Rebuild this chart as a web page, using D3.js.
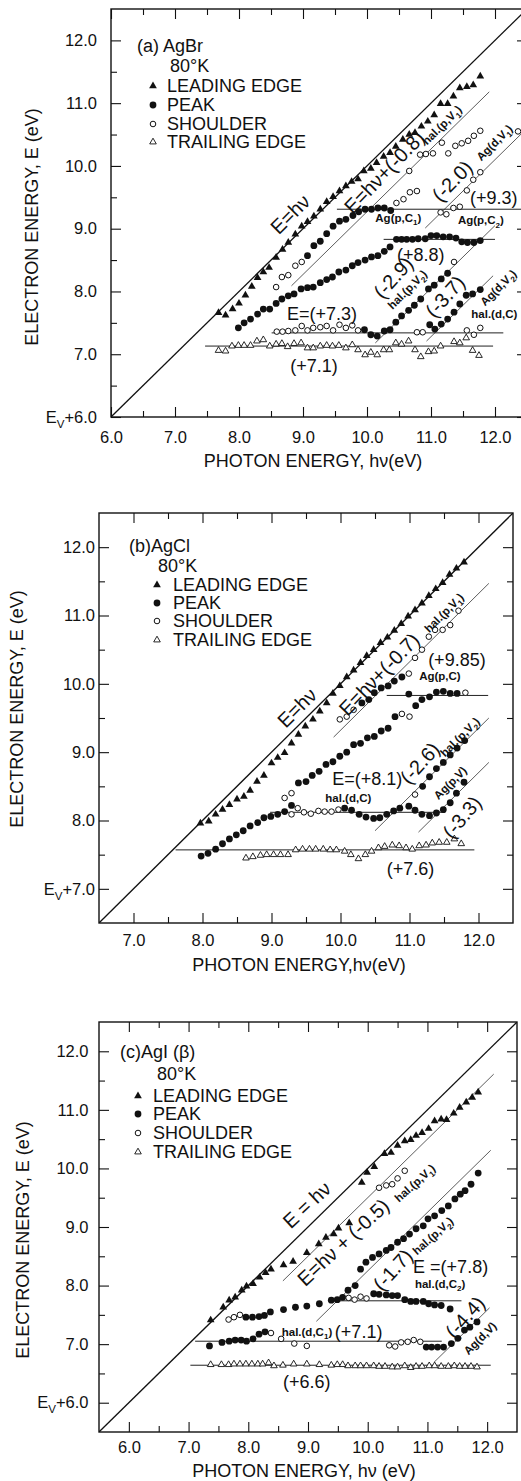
<!DOCTYPE html>
<html>
<head>
<meta charset="utf-8">
<script src="https://cdnjs.cloudflare.com/ajax/libs/d3/7.8.5/d3.min.js"></script>
<style>
  body { margin: 0; background: #fff; }
  svg { display: block; }
  text { font-family: "Liberation Sans", Arial, sans-serif; fill: #111; }
</style>
</head>
<body>
<svg id="chart" width="521" height="1481"></svg>
<script>
// ---- Series names (legend)
const seriesNames = ['LEADING EDGE', 'PEAK', 'SHOULDER', 'TRAILING EDGE'];
const seriesKeys = ['leading', 'peak', 'shoulder', 'trailing'];

// ---- Tick labels
const aXTicks = [6, 7, 8, 9, 10, 11, 12];
const aYTicks = [6, 7, 8, 9, 10, 11, 12];
const aYTickLabels = ['E_V+6.0', '7.0', '8.0', '9.0', '10.0', '11.0', '12.0'];
const bXTicks = [7, 8, 9, 10, 11, 12];
const bYTicks = [7, 8, 9, 10, 11, 12];
const bYTickLabels = ['E_V+7.0', '8.0', '9.0', '10.0', '11.0', '12.0'];
const cXTicks = [6, 7, 8, 9, 10, 11, 12];
const cYTicks = [6, 7, 8, 9, 10, 11, 12];
const cYTickLabels = ['E_V+6.0', '7.0', '8.0', '9.0', '10.0', '11.0', '12.0'];

// ---- (a) AgBr  [photon energy, electron energy]
const aLeading = [[7.68,7.66],[7.79,7.62],[7.90,7.72],[8.00,7.81],[8.10,7.94],[8.20,8.08],[8.29,8.22],[8.38,8.31],[8.47,8.38],[8.58,8.54],[8.68,8.67],[8.77,8.78],[8.88,8.91],[8.98,9.04],[9.07,9.11],[9.17,9.20],[9.27,9.31],[9.37,9.43],[9.47,9.51],[9.57,9.60],[9.67,9.68],[9.76,9.75],[9.86,9.79],[9.95,9.92],[10.06,9.96],[10.15,10.05],[10.26,10.15],[10.36,10.21],[10.45,10.31],[10.56,10.42],[10.66,10.50],[10.75,10.53],[10.85,10.63],[10.95,10.71],[11.05,10.81],[11.15,10.99],[11.26,10.99],[11.35,11.11],[11.45,11.24],[11.56,11.26],[11.66,11.29],[11.77,11.43]];
const aPeak = [[7.99,7.42],[8.08,7.50],[8.18,7.56],[8.29,7.64],[8.38,7.72],[8.48,7.72],[8.58,7.81],[8.67,7.88],[8.77,7.93],[8.86,7.96],[8.97,8.04],[9.07,8.06],[9.16,8.07],[9.27,8.14],[9.37,8.19],[9.46,8.23],[9.56,8.31],[9.67,8.34],[9.77,8.41],[9.86,8.46],[9.97,8.50],[10.07,8.55],[10.17,8.57],[10.27,8.64],[10.36,8.71],
  [10.46,8.83],[10.54,8.83],[10.62,8.83],[10.71,8.83],[10.80,8.84],[10.91,8.84],[11.00,8.89],[11.09,8.89],[11.19,8.87],[11.29,8.87],[11.39,8.85],[11.48,8.79],[11.57,8.78],[11.67,8.78],[11.77,8.81],
  [9.07,8.57],[9.17,8.73],[9.27,8.80],[9.37,8.92],[9.47,9.04],[9.57,9.12],[9.67,9.15],[9.78,9.21],[9.87,9.27],[9.97,9.31],[10.07,9.31],[10.17,9.33],[10.27,9.33],[10.37,9.29],
  [9.96,7.39],[10.06,7.31],[10.16,7.29],[10.27,7.37],[10.36,7.39],[10.45,7.51],[10.54,7.61],[10.65,7.70],[10.74,7.78],[10.84,7.88],[10.96,8.04],[11.05,8.10],[11.16,8.20],[11.26,8.29],
  [10.98,7.47],[11.06,7.40],[11.16,7.48],[11.26,7.56],[11.36,7.67],[11.45,7.80],[11.55,7.94],[11.65,7.96],[11.77,8.03]];
const aShoulder = [[8.58,8.07],[8.67,8.23],[8.77,8.26],[8.88,8.41],[8.98,8.47],
  [10.46,9.41],[10.57,9.47],[10.67,9.58],[10.78,9.60],[10.66,9.92],[10.83,10.18],[10.92,10.19],[11.03,10.20],[11.17,10.37],[11.27,10.20],[11.38,10.32],[11.48,10.36],[11.58,10.40],[11.67,10.48],[11.77,10.56],
  [11.15,9.26],[11.24,9.23],[11.35,9.33],[11.45,9.35],[11.56,9.61],[11.66,9.78],[11.77,9.90],[12.36,10.55],
  [8.59,7.36],[8.68,7.36],[8.77,7.37],[8.88,7.38],[8.98,7.45],[9.07,7.38],[9.16,7.42],[9.27,7.43],[9.37,7.45],[9.47,7.38],[9.57,7.47],[9.67,7.42],[9.77,7.46],[9.86,7.38],
  [10.78,7.35],[10.87,7.35],[11.36,8.47],[11.56,7.38],[11.67,7.31],[11.77,7.42]];
const aTrailing = [[7.68,7.06],[7.79,7.05],[7.89,7.13],[7.99,7.14],[8.08,7.14],[8.18,7.14],[8.28,7.21],[8.38,7.23],[8.48,7.13],[8.58,7.16],[8.67,7.17],[8.76,7.12],[8.86,7.17],[8.97,7.18],[9.07,7.10],[9.16,7.10],[9.27,7.13],[9.37,7.14],[9.46,7.13],[9.56,7.14],[9.67,7.10],[9.77,7.15],[9.86,7.07],[9.97,6.99],[10.06,7.03],[10.16,6.99],[10.26,7.07],[10.35,7.07],[10.45,7.18],[10.54,7.16],[10.65,7.21],[10.75,7.07],[10.84,6.96],[10.96,7.04],[11.05,7.05],[11.15,7.13],[11.36,7.20],[11.45,7.18],[11.55,7.26],[11.65,7.06],[11.75,6.98]];
// guide lines: [x from, x to, offset from E = hν]
const aSlopeLines = [[6, 12.5, 0], [8.82, 11.91, -0.73], [10.91, 12.5, -1.9], [10.13, 12.0, -2.95], [10.93, 11.97, -3.72]];
// flat lines: [x from, x to, E]
const aFlatLines = [[9.53, 12.5, 9.31], [10.26, 12.0, 8.83], [8.51, 12.13, 7.34], [7.47, 11.97, 7.13]];

// ---- (b) AgCl
const bLeading = [[7.97,7.96],[8.09,7.99],[8.19,8.09],[8.29,8.16],[8.39,8.23],[8.50,8.31],[8.60,8.35],[8.69,8.44],[8.79,8.57],[8.89,8.66],[9.00,8.84],[9.09,8.92],[9.19,8.99],[9.29,9.13],[9.39,9.26],[9.49,9.38],[9.60,9.48],[9.70,9.60],[9.80,9.72],[9.89,9.86],[9.99,9.97],[10.09,10.10],[10.19,10.20],[10.29,10.31],[10.38,10.41],[10.48,10.50],[10.58,10.60],[10.68,10.68],[10.78,10.78],[10.88,10.88],[10.98,10.99],[11.08,11.08],[11.18,11.18],[11.28,11.29],[11.38,11.39],[11.48,11.48],[11.58,11.60],[11.68,11.69],[11.79,11.78]];
const bPeak = [[7.98,7.48],[8.08,7.52],[8.19,7.58],[8.29,7.66],[8.39,7.73],[8.49,7.79],[8.59,7.85],[8.69,7.92],[8.80,7.97],[8.89,8.04],[8.99,8.06],[9.09,8.09],[9.19,8.13],[9.29,8.22],
  [9.39,8.55],[9.50,8.57],[9.59,8.66],[9.69,8.72],[9.79,8.82],[9.89,8.86],[9.99,8.94],[10.09,9.00],[10.19,9.11],[10.29,9.13],[10.39,9.21],[10.49,9.23],[10.59,9.31],[10.69,9.35],[10.79,9.52],
  [10.99,9.85],[11.09,9.68],[11.18,9.77],[11.29,9.81],[11.39,9.88],[11.49,9.89],[11.59,9.86],[11.69,9.86],
  [10.31,9.72],[10.41,9.77],[10.49,9.87],[10.59,9.94],[10.69,9.97],[10.78,10.04],[10.89,10.10],
  [10.06,8.18],[10.16,8.15],[10.27,8.09],[10.37,8.05],[10.48,8.03],[10.57,8.04],[10.67,8.09],[10.77,8.14],[10.86,8.18],[10.99,8.21],[11.08,8.15],
  [11.19,8.50],[11.29,8.64],[11.39,8.76],[11.49,8.85],[11.59,8.96],[11.69,9.06],[11.80,9.17],
  [11.18,8.09],[11.29,8.07],[11.39,8.11],[11.49,8.16],[11.59,8.26],[11.68,8.40],[11.79,8.56]];
const bShoulder = [[9.19,8.33],[9.29,8.40],[9.29,8.09],[9.38,8.18],[9.47,8.12],[9.57,8.10],[9.68,8.14],[9.77,8.13],[9.87,8.13],[9.97,8.16],
  [9.99,9.48],[10.09,9.52],[10.19,9.62],[10.89,9.56],[11.00,9.52],
  [10.99,10.15],[11.08,10.38],[11.18,10.50],[11.28,10.69],[11.37,10.79],[11.48,10.79],[11.59,10.86],[11.71,11.07],
  [11.08,8.38],[11.81,9.87]];
const bTrailing = [[8.63,7.45],[8.73,7.47],[8.84,7.49],[8.93,7.50],[9.03,7.50],[9.13,7.50],[9.24,7.50],[9.35,7.57],[9.45,7.58],[9.55,7.58],[9.64,7.58],[9.75,7.58],[9.85,7.57],[9.94,7.57],[10.06,7.55],[10.15,7.50],[10.26,7.44],[10.36,7.50],[10.45,7.55],[10.55,7.60],[10.64,7.62],[10.75,7.64],[10.85,7.63],[10.95,7.60],[11.04,7.58],[11.14,7.63],[11.24,7.64],[11.33,7.67],[11.43,7.68],[11.54,7.68],[11.65,7.73],[11.75,7.66]];
const bSlopeLines = [[6.5, 12.5, 0], [9.9, 12.15, -0.68], [10.5, 12.15, -2.65], [11.13, 12.15, -3.3]];
const bFlatLines = [[10.67, 12.14, 9.83], [8.98, 11.52, 8.12], [7.61, 11.94, 7.57]];

// ---- (c) AgI (β)
const cLeading = [[7.37,7.41],[7.58,7.63],[7.68,7.75],[7.78,7.80],[7.89,7.92],[7.97,7.99],[8.08,8.03],[8.19,8.14],[8.29,8.22],[8.38,8.28],[8.59,8.35],[8.75,8.41],[8.98,8.56],[9.18,8.71],[9.30,8.82],[9.43,8.88],[9.51,8.98],[9.69,9.07],[9.90,9.76],[9.99,9.93],[10.11,10.03],[10.28,10.25],[10.39,10.27],[10.50,10.39],[10.62,10.47],[10.72,10.49],[10.81,10.56],[10.91,10.61],[11.02,10.68],[11.12,10.81],[11.23,10.84],[11.32,10.83],[11.44,10.94],[11.54,11.04],[11.65,11.13],[11.75,11.21],[11.85,11.30]];
const cPeak = [[7.35,6.97],[7.56,7.03],[7.68,7.05],[7.78,7.07],[7.88,7.07],[7.97,7.05],[8.08,7.09],[8.18,7.17],[8.28,7.21],
  [10.98,6.95],[11.07,6.95],[11.17,6.95],[11.27,6.95],[11.40,7.01],[11.51,7.10],[11.62,7.24],[11.71,7.29],[11.83,7.38],
  [7.96,7.46],[8.07,7.46],[8.18,7.47],[8.27,7.49],[8.37,7.55],[8.59,7.59],[8.79,7.63],[8.98,7.65],[9.19,7.69],[9.39,7.75],[9.49,7.76],[9.58,7.80],[9.67,7.92],[9.79,8.00],
  [9.88,8.28],[9.97,8.40],[10.08,8.48],[10.19,8.54],[10.31,8.60],[10.39,8.65],[10.50,8.74],[10.60,8.80],[10.70,8.88],[10.81,8.97],[10.93,9.02],[11.01,9.14],[11.12,9.19],[11.24,9.28],[11.35,9.36],[11.46,9.48],[11.55,9.56],[11.63,9.62],[11.73,9.73],[11.85,9.92],
  [10.10,7.86],[10.19,7.85],[10.31,7.84],[10.41,7.83],[10.50,7.83],[10.62,7.76],[10.72,7.73],[10.81,7.73],[10.93,7.73],[11.02,7.69],[11.12,7.67],[11.23,7.66],[11.38,7.60]];
const cShoulder = [[7.67,7.42],[7.76,7.46],[7.86,7.50],
  [8.38,7.19],[8.55,7.09],[8.77,7.01],[8.98,6.97],
  [9.68,7.79],[9.78,7.76],[9.88,7.81],[9.98,7.78],
  [10.19,9.67],[10.31,9.71],[10.41,9.73],[10.50,9.83],[10.62,9.96],
  [10.36,6.98],[10.46,6.96],[10.56,7.03],[10.67,7.04],[10.77,7.07],[10.88,7.04]];
const cTrailing = [[7.37,6.65],[7.55,6.65],[7.67,6.65],[7.76,6.66],[7.86,6.66],[7.96,6.66],[8.06,6.66],[8.16,6.66],[8.24,6.66],[8.34,6.68],[8.43,6.63],[8.58,6.64],[8.76,6.66],[8.98,6.66],[9.19,6.65],[9.39,6.64],[9.49,6.65],[9.58,6.65],[9.67,6.63],[9.79,6.63],[9.88,6.63],[9.98,6.63],[10.10,6.63],[10.19,6.62],[10.29,6.62],[10.41,6.61],[10.50,6.61],[10.62,6.63],[10.72,6.60],[10.81,6.62],[10.91,6.62],[11.03,6.63],[11.12,6.63],[11.23,6.62],[11.35,6.62],[11.45,6.63],[11.54,6.62],[11.63,6.62],[11.73,6.62],[11.83,6.61]];
const cSlopeLines = [[5.5, 12.5, 0], [8.58, 12.11, -0.5], [9.14, 12.06, -1.75], [11.11, 12.04, -4.42]];
const cFlatLines = [[7.11, 11.24, 7.05], [9.43, 11.57, 7.74], [7.03, 12.06, 6.64]];

// ---- Panels layout
const panels = [
  {
    id: 'a', left: 111, top: 9, width: 416, height: 408, domX: [6, 12.5], domY: [6, 12.5],
    xTicks: aXTicks, yTicks: aYTicks, yLabels: aYTickLabels, yPad: 14, xPad: 14.6,
    series: { leading: aLeading, peak: aPeak, shoulder: aShoulder, trailing: aTrailing },
    slopes: aSlopeLines, flats: aFlatLines,
    title: ['(a) AgBr', 26, 43], temp: ['80°K', 59, 63], legMark: 42, legText: 56, legY: [83, 102, 121, 139],
    yTitle: [38, 227], xTitle: ['PHOTON ENERGY, hν(eV)', 313, 467],
    notes: [
      { t: 'E=hν', x: 8.80, y: 9.23, r: -45 },
      { t: 'E=hν+(-0.8)', x: 10.27, y: 9.90, r: -46 },
      { t: 'hal.(p,V_1)', x: 11.17, y: 10.65, r: -45, s: 1 },
      { t: '(-2.0)', x: 11.33, y: 9.76, r: -46 },
      { t: 'Ag(d,V_1)', x: 11.99, y: 10.37, r: -45, s: 1 },
      { t: '(+9.3)', x: 11.61, y: 9.39 },
      { t: 'Ag(p,C_1)', x: 10.13, y: 9.11, s: 1 },
      { t: 'Ag(p,C_2)', x: 11.42, y: 9.07, s: 1 },
      { t: '(+8.8)', x: 10.47, y: 8.48 },
      { t: '(-2.9)', x: 10.41, y: 8.22, r: -48 },
      { t: 'hal.(p,V_2)', x: 10.63, y: 8.03, r: -45, s: 1 },
      { t: '(-3.7)', x: 11.22, y: 7.92, r: -48 },
      { t: 'Ag(d,V_2)', x: 12.05, y: 8.06, r: -45, s: 1 },
      { t: 'hal.(d,C)', x: 11.63, y: 7.58, s: 1 },
      { t: 'E=(+7.3)', x: 8.75, y: 7.55 },
      { t: '(+7.1)', x: 8.80, y: 6.71 }
    ]
  },
  {
    id: 'b', left: 99, top: 513, width: 414, height: 410, domX: [6.5, 12.5], domY: [6.5, 12.5],
    xTicks: bXTicks, yTicks: bYTicks, yLabels: bYTickLabels, yPad: 4, xPad: 11.3,
    series: { leading: bLeading, peak: bPeak, shoulder: bShoulder, trailing: bTrailing },
    slopes: bSlopeLines, flats: bFlatLines,
    title: ['(b)AgCl', 30, 39], temp: ['80°K', 59, 59], legMark: 58, legText: 74, legY: [78, 96, 114, 133],
    yTitle: [23, 709], xTitle: ['PHOTON ENERGY,hν(eV)', 299, 971],
    notes: [
      { t: 'E=hν', x: 9.37, y: 9.65, r: -45 },
      { t: 'E=hν+(-0.7)', x: 10.56, y: 10.14, r: -46 },
      { t: 'hal.(p,V_1)', x: 11.50, y: 11.04, r: -45, s: 1 },
      { t: '(+9.85)', x: 11.27, y: 10.26 },
      { t: 'Ag(p,C)', x: 11.14, y: 10.06, s: 1 },
      { t: '(-2.6)', x: 11.15, y: 8.84, r: -48 },
      { t: 'hal.(p,V_2)', x: 11.73, y: 9.22, r: -45, s: 1 },
      { t: 'E=(+8.1)', x: 9.88, y: 8.52 },
      { t: 'hal.(d,C)', x: 9.78, y: 8.27, s: 1 },
      { t: 'Ag(p,V)', x: 11.59, y: 8.55, r: -45, s: 1 },
      { t: '(-3.3)', x: 11.76, y: 8.05, r: -50 },
      { t: '(+7.6)', x: 10.67, y: 7.20 }
    ]
  },
  {
    id: 'c', left: 99, top: 1022, width: 418, height: 410, domX: [5.5, 12.5], domY: [5.5, 12.5],
    xTicks: cXTicks, yTicks: cYTicks, yLabels: cYTickLabels, yPad: 10.5, xPad: 9.6,
    series: { leading: cLeading, peak: cPeak, shoulder: cShoulder, trailing: cTrailing },
    slopes: cSlopeLines, flats: cFlatLines,
    title: ['(c)AgI (β)', 21, 36], temp: ['80°K', 58, 58], legMark: 39, legText: 54, legY: [80, 98, 117, 136],
    yTitle: [29, 1240], xTitle: ['PHOTON ENERGY, hν (eV)', 304, 1477],
    notes: [
      { t: 'E = hν', x: 8.98, y: 9.38, r: -43 },
      { t: 'E=hν + (-0.5)', x: 9.59, y: 8.74, r: -43 },
      { t: 'hal.(p,V_1)', x: 10.79, y: 9.75, r: -42, s: 1 },
      { t: '(-1.7)', x: 10.42, y: 8.27, r: -48 },
      { t: 'hal.(p,V_2)', x: 11.09, y: 8.85, r: -42, s: 1 },
      { t: 'E =(+7.8)', x: 10.76, y: 8.21 },
      { t: 'hal.(d,C_2)', x: 10.79, y: 7.96, s: 1 },
      { t: '(-4.4)', x: 11.63, y: 7.46, r: -48 },
      { t: 'Ag(d,V)', x: 11.88, y: 7.10, r: -45, s: 1 },
      { t: 'hal.(d,C_1)', x: 8.56, y: 7.14, s: 1 },
      { t: '(+7.1)', x: 9.45, y: 7.10 },
      { t: '(+6.6)', x: 8.58, y: 6.25 }
    ]
  }
];

const ink = '#111';
const svg = d3.select('#chart');

// subscript helper: "V_1" -> V with small 1 below
function rich(textSel, str, size) {
  textSel.text(null);
  const parts = str.split(/_(\w)/);
  let shifted = false;
  parts.forEach((s, i) => {
    if (s === '') return;
    const t = textSel.append('tspan').text(s);
    if (i % 2 === 1) {
      t.attr('font-size', size * 0.7).attr('dy', size * 0.3);
      shifted = true;
    } else if (shifted) {
      t.attr('dy', -size * 0.3);
      shifted = false;
    }
  });
}

const triFill = d3.symbol().type(d3.symbolTriangle).size(26);
const triOpen = d3.symbol().type(d3.symbolTriangle).size(19);

function drawMarker(sel, key) {
  if (key === 'leading') {
    return sel.append('path').attr('d', triFill()).attr('fill', ink);
  } else if (key === 'trailing') {
    return sel.append('path').attr('d', triOpen()).attr('fill', '#fff').attr('stroke', ink).attr('stroke-width', 0.9);
  } else if (key === 'peak') {
    return sel.append('circle').attr('r', 3.4).attr('fill', ink);
  }
  return sel.append('circle').attr('r', 2.8).attr('fill', '#fff').attr('stroke', ink).attr('stroke-width', 1);
}

function drawPanel(p) {
  const g = svg.append('g').attr('transform', `translate(${p.left},${p.top})`);
  const x = d3.scaleLinear().domain(p.domX).range([0, p.width]);
  const y = d3.scaleLinear().domain(p.domY).range([p.height, 0]);

  svg.append('clipPath').attr('id', 'clip-' + p.id)
    .append('rect').attr('width', p.width).attr('height', p.height);

  // ---- Ticks (inward, four sides)
  const minorX = d3.range(p.domX[0] + 0.5, p.domX[1], 0.5).filter(v => !p.xTicks.includes(v));
  const minorY = d3.range(p.domY[0] + 0.5, p.domY[1], 0.5).filter(v => !p.yTicks.includes(v));

  const tickAxes = [
    [d3.axisBottom(x), `translate(0,${p.height})`, p.xTicks, minorX, true, p.xPad],
    [d3.axisTop(x), 'translate(0,0)', p.xTicks, minorX, false, 3],
    [d3.axisLeft(y), 'translate(0,0)', p.yTicks, minorY, true, p.yPad],
    [d3.axisRight(y), `translate(${p.width},0)`, p.yTicks, minorY, false, 3]
  ];
  tickAxes.forEach(([axis, tr, major, minor, labelled, pad]) => {
    g.append('g').attr('transform', tr).attr('color', ink)
      .call(axis.tickValues(minor).tickSize(-6).tickFormat(''))
      .call(s => s.select('.domain').remove())
      .selectAll('line').attr('stroke-width', 1.1);
    const ag = g.append('g').attr('transform', tr).attr('color', ink);
    ag.call(axis.tickValues(major).tickSize(-10).tickPadding(pad)
        .tickFormat(labelled ? (d => d.toFixed(1)) : ''))
      .call(s => s.select('.domain').remove());
    ag.selectAll('line').attr('stroke-width', 1.1);
    ag.selectAll('text').style('font-size', '16.5px');
    if (labelled && major === p.yTicks) {
      ag.selectAll('.tick text').each(function (d, i) { rich(d3.select(this), p.yLabels[i], 16.5); });
    }
  });

  // ---- Frame
  g.append('rect').attr('width', p.width).attr('height', p.height)
    .attr('fill', 'none').attr('stroke', ink).attr('stroke-width', 1.4);

  // ---- Guide lines
  const lines = g.append('g').attr('clip-path', `url(#clip-${p.id})`);
  lines.selectAll('line.slope').data(p.slopes).enter().append('line')
    .attr('x1', d => x(d[0])).attr('y1', d => y(d[0] + d[2]))
    .attr('x2', d => x(d[1])).attr('y2', d => y(d[1] + d[2]))
    .attr('stroke', d => d[2] === 0 ? ink : '#333')
    .attr('stroke-width', d => d[2] === 0 ? 1.3 : 0.8);
  lines.selectAll('line.flat').data(p.flats).enter().append('line')
    .attr('x1', d => x(d[0])).attr('y1', d => y(d[2]))
    .attr('x2', d => x(d[1])).attr('y2', d => y(d[2]))
    .attr('stroke', '#222').attr('stroke-width', 1);

  // ---- Points
  seriesKeys.forEach(key => {
    p.series[key].forEach(d => {
      const m = g.append('g').attr('transform', `translate(${x(d[0])},${y(d[1])})`);
      drawMarker(m, key);
    });
  });

  // ---- Annotations
  p.notes.forEach(n => {
    const size = n.s ? 11.5 : (n.r ? 20 : 18);
    const cx = x(n.x), cy = y(n.y);
    const t = g.append('text')
      .attr('font-size', size)
      .attr('font-weight', n.s ? 'bold' : null);
    if (n.r) {
      t.attr('transform', `translate(${cx},${cy}) rotate(${n.r})`)
        .attr('text-anchor', 'middle').attr('y', size * 0.35);
    } else {
      t.attr('x', cx).attr('y', cy);
    }
    rich(t, n.t, size);
  });

  // ---- Legend
  g.append('text').attr('x', p.title[1]).attr('y', p.title[2]).attr('font-size', 18).text(p.title[0]);
  g.append('text').attr('x', p.temp[1]).attr('y', p.temp[2]).attr('font-size', 18).text(p.temp[0]);
  seriesKeys.forEach((key, i) => {
    const m = g.append('g').attr('transform', `translate(${p.legMark},${p.legY[i] - 6})`);
    drawMarker(m, key);
    g.append('text').attr('x', p.legText).attr('y', p.legY[i]).attr('font-size', 18).text(seriesNames[i]);
  });

  // ---- Axis titles
  svg.append('text')
    .attr('transform', `translate(${p.yTitle[0]},${p.yTitle[1]}) rotate(-90)`)
    .attr('text-anchor', 'middle').attr('font-size', 18)
    .text('ELECTRON ENERGY, E (eV)');
  svg.append('text')
    .attr('x', p.xTitle[1]).attr('y', p.xTitle[2])
    .attr('text-anchor', 'middle').attr('font-size', 18)
    .text(p.xTitle[0]);
}

panels.forEach(drawPanel);
</script>
</body>
</html>
